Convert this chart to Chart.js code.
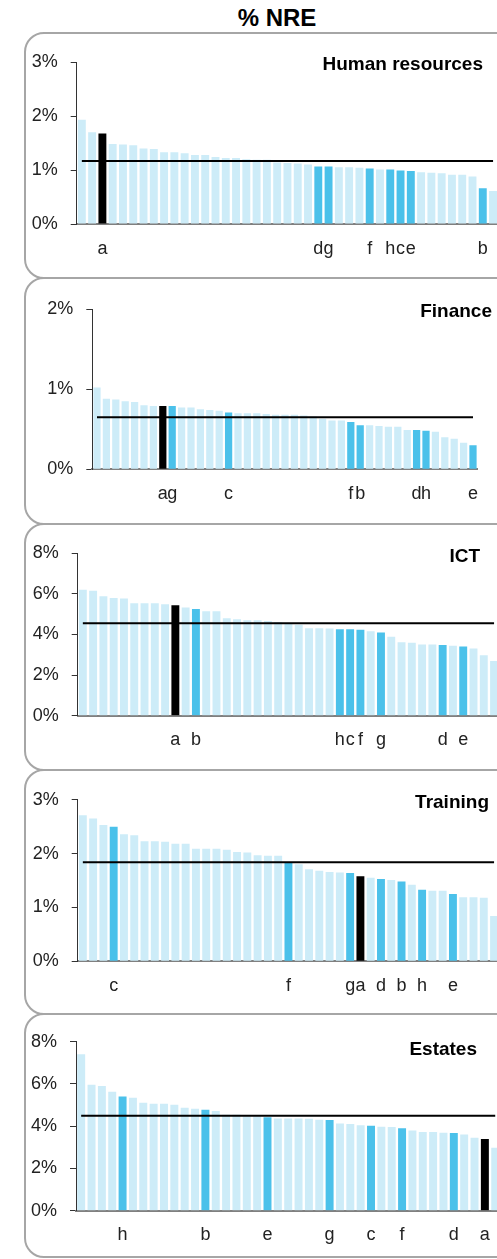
<!DOCTYPE html>
<html>
<head>
<meta charset="utf-8">
<script src="https://cdn.jsdelivr.net/npm/chart.js@4.4.1/dist/chart.umd.min.js"></script>
<style>
	html, body { margin: 0; padding: 0; background: #fff; overflow: hidden; }
	body { width: 497px; height: 1259px; position: relative; font-family: "Liberation Sans", Arial, sans-serif; }
	.box { position: absolute; left: 24px; width: 560px; border: 2px solid #a6a6a6; border-radius: 20px; box-sizing: border-box; }
	.panel { position: absolute; left: 0; }
	.ptitle { position: absolute; left: 0; text-align: right; font-weight: bold; font-size: 19px; line-height: 22px; color: #000; white-space: nowrap; }
	#mainTitle { position: absolute; left: 0; width: 554px; top: 4px; text-align: center; font-weight: bold; font-size: 24px; line-height: 28px; color: #000; }
</style>
</head>
<body>
<div id="mainTitle">% NRE</div>
<script>
// values in % of NRE, sorted high to low; marked bars are picked out by letter
const hrValues = [1.93, 1.70, 1.675, 1.48, 1.47, 1.46, 1.40, 1.39, 1.33, 1.33, 1.31, 1.28, 1.28, 1.24, 1.22, 1.22, 1.20, 1.19, 1.19, 1.14, 1.13, 1.12, 1.10, 1.065, 1.065, 1.05, 1.05, 1.04, 1.03, 1.01, 1.01, 0.99, 0.98, 0.96, 0.95, 0.94, 0.91, 0.91, 0.88, 0.66, 0.61];
const hrKeyPos = [3, 24, 25, 29, 31, 32, 33, 40];
const hrKeyNames = ['a', 'd', 'g', 'f', 'h', 'c', 'e', 'b'];
const hrAvg = 1.166;

const finValues = [1.02, 0.88, 0.87, 0.85, 0.84, 0.80, 0.79, 0.79, 0.79, 0.77, 0.77, 0.75, 0.74, 0.73, 0.71, 0.70, 0.70, 0.70, 0.69, 0.68, 0.68, 0.68, 0.67, 0.66, 0.63, 0.61, 0.61, 0.59, 0.55, 0.55, 0.54, 0.53, 0.53, 0.49, 0.49, 0.48, 0.47, 0.40, 0.38, 0.33, 0.30];
const finKeyPos = [8, 9, 15, 28, 29, 35, 36, 41];
const finKeyNames = ['a', 'g', 'c', 'f', 'b', 'd', 'h', 'e'];
const finAvg = 0.65;

const ictValues = [6.21, 6.15, 5.89, 5.80, 5.77, 5.54, 5.54, 5.54, 5.49, 5.44, 5.33, 5.26, 5.15, 5.15, 4.80, 4.75, 4.70, 4.70, 4.66, 4.62, 4.54, 4.48, 4.31, 4.31, 4.30, 4.26, 4.26, 4.23, 4.16, 4.10, 3.89, 3.62, 3.59, 3.51, 3.51, 3.48, 3.44, 3.41, 3.31, 2.98, 2.69];
const ictKeyPos = [10, 12, 26, 27, 28, 30, 36, 38];
const ictKeyNames = ['a', 'b', 'h', 'c', 'f', 'g', 'd', 'e'];
const ictAvg = 4.56;

const trainValues = [2.71, 2.65, 2.53, 2.50, 2.36, 2.34, 2.23, 2.23, 2.22, 2.18, 2.18, 2.09, 2.09, 2.09, 2.07, 2.03, 2.02, 1.97, 1.96, 1.96, 1.84, 1.80, 1.71, 1.68, 1.66, 1.65, 1.64, 1.58, 1.55, 1.53, 1.51, 1.48, 1.42, 1.33, 1.31, 1.31, 1.25, 1.19, 1.19, 1.18, 0.84];
const trainKeyPos = [4, 21, 27, 28, 30, 32, 34, 37];
const trainKeyNames = ['c', 'f', 'g', 'a', 'd', 'b', 'h', 'e'];
const trainAvg = 1.84;

const estValues = [7.41, 5.96, 5.90, 5.63, 5.41, 5.35, 5.11, 5.06, 5.06, 5.02, 4.87, 4.83, 4.78, 4.72, 4.54, 4.54, 4.46, 4.46, 4.42, 4.37, 4.37, 4.37, 4.35, 4.31, 4.29, 4.13, 4.10, 4.05, 4.02, 3.97, 3.96, 3.90, 3.80, 3.72, 3.72, 3.69, 3.68, 3.61, 3.45, 3.39, 2.98];
const estKeyPos = [5, 13, 19, 25, 29, 32, 37, 40];
const estKeyNames = ['h', 'b', 'e', 'g', 'c', 'f', 'd', 'a'];
const estAvg = 4.50;

const panelTitles = ['Human resources', 'Finance', 'ICT', 'Training', 'Estates'];
const yMaxes = [3, 2, 8, 3, 8];
const ySteps = [1, 1, 2, 1, 2];

const lightBlue = '#cdecf8';
const darkBlue = '#4bc1ea';
const ownBar = '#000000';
const canvasW = 510;
const fontFamily = '"Liberation Sans", Arial, sans-serif';

// page geometry of each panel (box edges, plot area, title anchor)
const layout = [
	{ boxTop: 32, boxBottom: 279, left: 76.7, right: 498.2, top: 62, bottom: 224, titleRight: 483, titleY: 63.5 },
	{ boxTop: 277, boxBottom: 525, left: 92.3, right: 477.7, top: 309, bottom: 469.3, titleRight: 492, titleY: 310.5 },
	{ boxTop: 523, boxBottom: 771, left: 77.7, right: 499.2, top: 553.3, bottom: 715.7, titleRight: 480, titleY: 556 },
	{ boxTop: 769, boxBottom: 1015, left: 77.7, right: 499.2, top: 799.7, bottom: 961.3, titleRight: 489, titleY: 802 },
	{ boxTop: 1013, boxBottom: 1258, left: 76, right: 500.4, top: 1041.7, bottom: 1210.7, titleRight: 477, titleY: 1049 }
];

const makePanel = (idx, values, keyPos, keyNames, avg) => {
	let pos = layout[idx];
	let chartId = 'panel' + idx;

	let box = document.createElement('div');
	box.className = 'box';
	box.style.top = pos.boxTop + 'px';
	box.style.height = (pos.boxBottom - pos.boxTop) + 'px';
	document.body.appendChild(box);

	let h = pos.boxBottom - pos.boxTop;
	const canvas = document.createElement('canvas');
	canvas.id = chartId;
	canvas.className = 'panel';
	canvas.width = canvasW;
	canvas.height = h;
	canvas.style.width = canvasW + 'px';
	canvas.style.height = h + 'px';
	canvas.style.top = pos.boxTop + 'px';
	document.body.appendChild(canvas);

	let t = document.createElement('div');
	t.className = 'ptitle';
	t.textContent = panelTitles[idx];
	t.style.width = pos.titleRight + 'px';
	t.style.top = (pos.titleY - 11) + 'px';
	document.body.appendChild(t);

	const labels = values.map(() => '');
	keyPos.forEach((p, i) => { labels[p - 1] = keyNames[i]; });
	const colors = labels.map((l) => l === '' ? lightBlue : (l === 'a' ? ownBar : darkBlue));
	const avgLine = values.map(() => avg);

	const data = {
		labels: labels,
		datasets: [{
			type: 'line',
			data: avgLine,
			borderColor: '#000',
			borderWidth: 2,
			pointRadius: 0,
			order: 0
		}, {
			type: 'bar',
			data: values,
			backgroundColor: colors,
			borderWidth: 0,
			categoryPercentage: 1,
			barPercentage: 0.77,
			order: 1
		}]
	};

	const config = {
		type: 'bar',
		data: data,
		options: {
			responsive: false,
			animation: false,
			layout: {
				padding: { left: 0, right: canvasW - pos.right, top: pos.top - pos.boxTop, bottom: 0 }
			},
			scales: {
				x: {
					offset: true,
					grid: { display: false, drawTicks: false },
					border: { color: '#808080', width: 2 },
					ticks: {
						autoSkip: false,
						maxRotation: 0,
						padding: 14,
						color: '#222',
						font: { size: 18, family: fontFamily }
					},
					afterFit: (s) => { s.height = h - (pos.bottom - pos.boxTop); }
				},
				y: {
					min: 0,
					max: yMaxes[idx],
					ticks: {
						stepSize: ySteps[idx],
						padding: 13,
						color: '#222',
						font: { size: 18, family: fontFamily },
						callback: (v) => v + '%'
					},
					grid: { drawOnChartArea: false, drawTicks: true, tickLength: 6, color: '#333' },
					border: { color: '#333', width: 1 },
					afterFit: (s) => { s.width = pos.left; }
				}
			},
			plugins: {
				legend: { display: false },
				tooltip: { enabled: false }
			}
		}
	};

	const chart = new Chart(canvas.getContext('2d'), config);
	return chart;
};

makePanel(0, hrValues, hrKeyPos, hrKeyNames, hrAvg);
makePanel(1, finValues, finKeyPos, finKeyNames, finAvg);
makePanel(2, ictValues, ictKeyPos, ictKeyNames, ictAvg);
makePanel(3, trainValues, trainKeyPos, trainKeyNames, trainAvg);
makePanel(4, estValues, estKeyPos, estKeyNames, estAvg);
</script>
</body>
</html>
